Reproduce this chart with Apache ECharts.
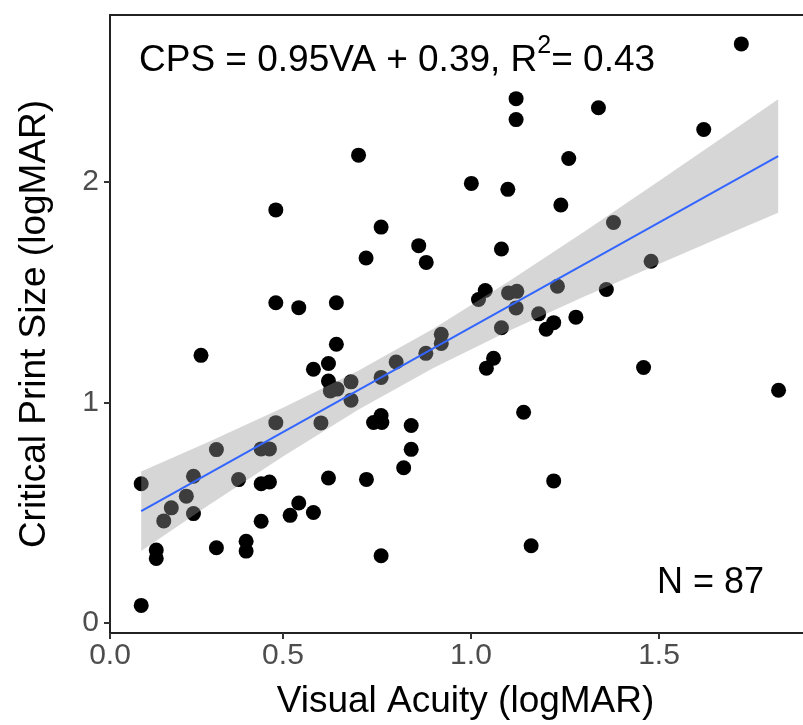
<!DOCTYPE html>
<html>
<head>
<meta charset="utf-8">
<script src="https://cdn.jsdelivr.net/npm/echarts@6/dist/echarts.min.js"></script>
<style>
html,body{margin:0;padding:0;background:#fff;}
#chart{width:803px;height:725px;}
</style>
</head>
<body>
<div id="chart"></div>
<script>
// Visual acuity (x) and critical print size (y), logMAR
const vaValues = [
  0.701, 0.481, 0.761,
  1.719, 1.120, 1.120, 1.339, 1.619, 1.260, 1.001, 1.098, 1.239, 1.379,
  0.861, 0.881, 0.721, 0.481, 0.542, 0.642, 0.282, 0.642, 0.621, 0.581,
  0.621, 0.626, 0.644, 0.681, 0.681, 0.761, 0.801, 0.880, 0.921, 0.921,
  1.081, 1.479, 1.360, 1.230, 1.038, 1.020, 1.100, 1.122, 1.120, 1.180,
  1.220, 1.200, 1.279, 1.081, 1.060, 1.041, 1.459, 1.818, 1.140,
  0.761, 0.741, 0.763, 0.841, 0.841, 0.821, 0.621, 0.722, 0.481, 0.601,
  0.323, 0.442, 0.464, 0.262, 0.382, 0.442, 0.464, 0.123, 0.243, 0.203,
  0.183, 0.262, 0.442, 0.542, 0.519, 0.581, 0.163, 0.163, 0.323, 0.402,
  0.402, 0.761, 0.123,
  1.220, 1.160
];
const cpsValues = [
  2.120, 1.872, 1.794,
  2.624, 2.376, 2.281, 2.335, 2.236, 2.105, 1.992, 1.965, 1.894, 1.815,
  1.710, 1.634, 1.654, 1.451, 1.429, 1.451, 1.213, 1.263, 1.176, 1.150,
  1.097, 1.052, 1.060, 1.093, 1.010, 1.113, 1.183, 1.222, 1.308, 1.267,
  1.695, 1.639, 1.511, 1.526, 1.507, 1.466, 1.496, 1.503, 1.428, 1.401,
  1.361, 1.331, 1.386, 1.338, 1.200, 1.155, 1.158, 1.055, 0.955,
  0.940, 0.909, 0.909, 0.895, 0.787, 0.704, 0.657, 0.651, 0.908, 0.907,
  0.786, 0.789, 0.789, 0.665, 0.650, 0.631, 0.639, 0.631, 0.575, 0.522,
  0.463, 0.496, 0.461, 0.544, 0.488, 0.501, 0.331, 0.293, 0.341, 0.371,
  0.326, 0.305, 0.080,
  0.644, 0.350
];

// Fitted line and its confidence band
const fitX = [0.123, 1.817];
const fitY = [0.507, 2.116];
const bandX     = [0.123, 0.30, 0.50, 0.70, 0.90, 1.10, 1.30, 1.50, 1.70, 1.817];
const bandLower = [0.327, 0.531, 0.755, 0.967, 1.156, 1.323, 1.478, 1.627, 1.774, 1.859];
const bandUpper = [0.687, 0.819, 0.975, 1.143, 1.334, 1.547, 1.772, 2.003, 2.236, 2.373];

// Axes
const X_MIN = 0.04, X_MAX = 1.883;
const Y_MIN = -0.045, Y_MAX = 2.755;
const xTickValues = [X_MIN, 0.5, 1.0, 1.5];
const yTickValues = [0, 1, 2];

const xTitle = 'Visual Acuity (logMAR)';
const yTitle = 'Critical Print Size (logMAR)';
const nLabel = 'N = 87';

const FONT = '"Liberation Sans", Arial, Helvetica, sans-serif';

const points = vaValues.map((v, i) => [v, cpsValues[i]]);
const fitLine = fitX.map((v, i) => [v, fitY[i]]);

const frameLine = {show: true, onZero: false, lineStyle: {color: '#222', width: 2}};

const chart = echarts.init(document.getElementById('chart'), null, {renderer: 'canvas'});
chart.setOption({
  animation: false,
  backgroundColor: '#ffffff',
  textStyle: {fontFamily: FONT},
  title: [
    {
      text: '{m|CPS = 0.95VA + 0.39, R}{s|2}{m|= 0.43}',
      left: 139, top: 34, padding: 0,
      textStyle: {
        fontWeight: 'normal',
        rich: {
          m: {fontFamily: FONT, fontSize: 37, fontWeight: 'normal', color: '#000', lineHeight: 54},
          s: {fontFamily: FONT, fontSize: 25, fontWeight: 'normal', color: '#000', lineHeight: 25, verticalAlign: 'top'}
        }
      }
    },
    {
      text: nLabel,
      left: 657, top: 565, padding: 0,
      textStyle: {fontFamily: FONT, fontSize: 36, fontWeight: 'normal', color: '#000', lineHeight: 36}
    }
  ],
  grid: {
    left: 110, right: 0, top: 15, bottom: 90, show: false
  },
  xAxis: [
    {
      type: 'value', min: X_MIN, max: X_MAX, position: 'bottom',
      name: xTitle, nameLocation: 'middle', nameGap: 50,
      nameTextStyle: {fontFamily: FONT, fontSize: 37, color: '#000', padding: [0, 0, 0, 18]},
      axisLine: frameLine,
      splitLine: {show: false},
      axisTick: {show: true, length: 6, lineStyle: {color: '#333', width: 2}, customValues: xTickValues},
      axisLabel: {
        fontFamily: FONT, fontSize: 30, color: '#4D4D4D', margin: 8,
        customValues: xTickValues,
        formatter: v => Number(v).toFixed(1)
      }
    },
    {
      type: 'value', min: X_MIN, max: X_MAX, position: 'top',
      axisLine: frameLine,
      splitLine: {show: false},
      axisTick: {show: false},
      axisLabel: {show: false}
    }
  ],
  yAxis: {
    type: 'value', min: Y_MIN, max: Y_MAX, position: 'left',
    name: yTitle, nameLocation: 'middle', nameGap: 57, nameRotate: 90,
    nameTextStyle: {fontFamily: FONT, fontSize: 37, color: '#000'},
    axisLine: frameLine,
    splitLine: {show: false},
    axisTick: {show: true, length: 6, lineStyle: {color: '#333', width: 2}, customValues: yTickValues},
    axisLabel: {
      fontFamily: FONT, fontSize: 30, color: '#4D4D4D', margin: 11,
      customValues: yTickValues,
      formatter: v => String(Math.round(v))
    }
  },
  series: [
    {
      type: 'scatter', data: points, symbol: 'circle', symbolSize: 15,
      itemStyle: {color: '#000', opacity: 1}, z: 2, silent: true
    },
    {
      type: 'custom', z: 3, silent: true,
      data: [[bandX[0], bandUpper[0]]],
      renderItem: function (params, api) {
        const pts = [];
        for (let i = 0; i < bandX.length; i++) pts.push(api.coord([bandX[i], bandUpper[i]]));
        for (let i = bandX.length - 1; i >= 0; i--) pts.push(api.coord([bandX[i], bandLower[i]]));
        return {type: 'polygon', shape: {points: pts}, style: {fill: 'rgba(153,153,153,0.4)', stroke: null}};
      }
    },
    {
      type: 'line', data: fitLine, symbol: 'none', z: 4, silent: true,
      lineStyle: {color: '#3366FF', width: 2}
    }
  ]
});
</script>
</body>
</html>
